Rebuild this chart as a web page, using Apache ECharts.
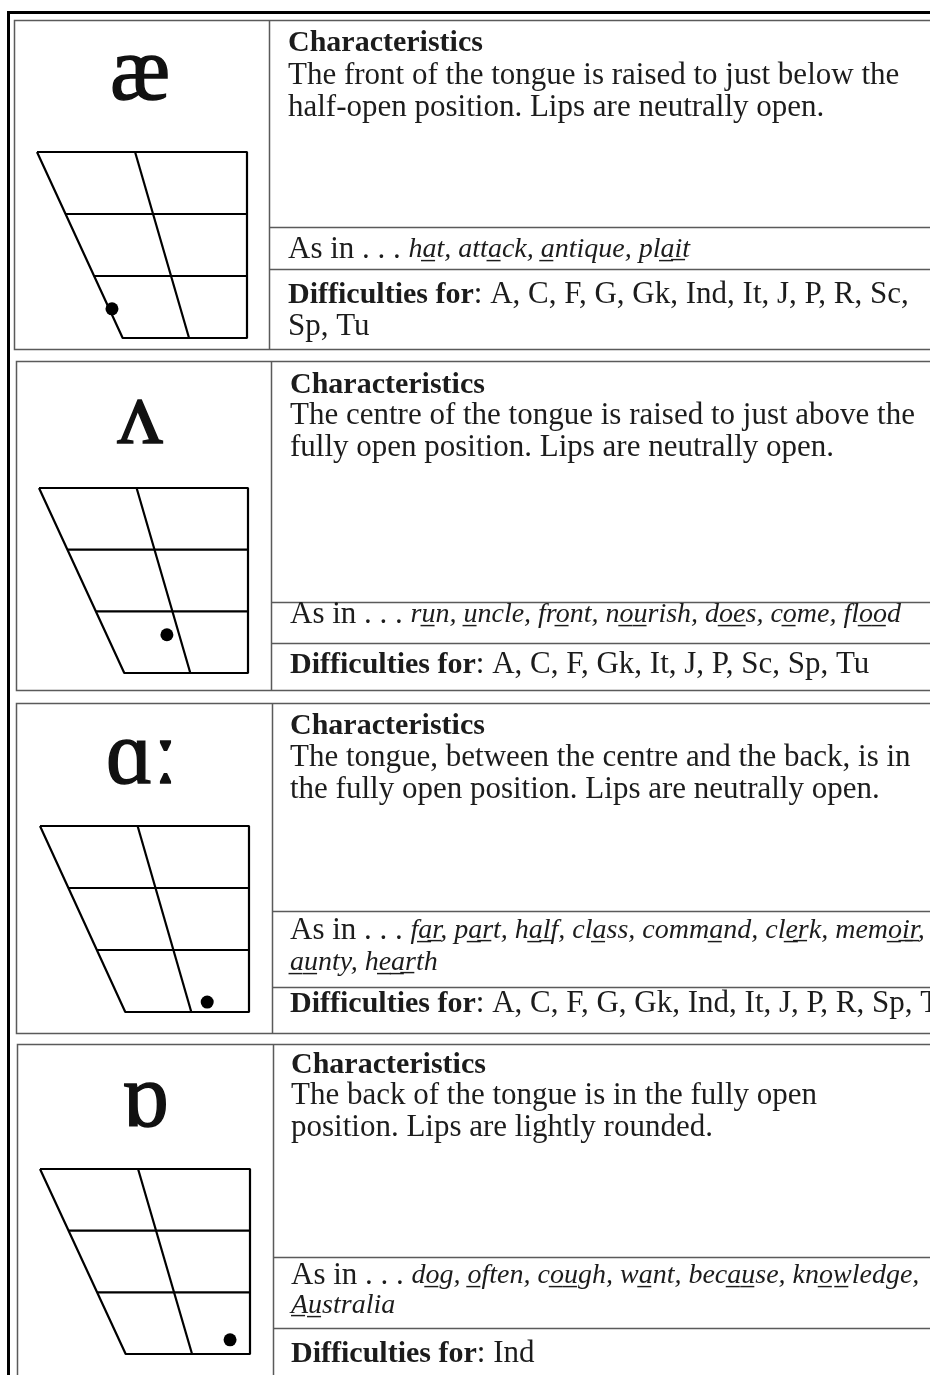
<!DOCTYPE html>
<html>
<head>
<meta charset="utf-8">
<script src="https://cdn.jsdelivr.net/npm/echarts@6/dist/echarts.min.js"></script>
<style>
html, body { margin: 0; padding: 0; background: #fff; }
#main { width: 930px; height: 1375px; }
</style>
</head>
<body>
<div id="main"></div>
<script>
// 元音符号
var symbols = ['æ', 'ʌ', 'ɑː', 'ɒ'];
// 舌位点: x = 前→后 (0-10), y = 开→闭 (0-3)
var dotX = [3.57, 6.12, 8.0, 9.05];
var dotY = [0.47, 0.62, 0.16, 0.23];
// 元音梯形框
var frameX = [0, 10, 10, 4.08, 0];
var frameY = [3, 3, 0, 0, 3];
var centreX = [4.67, 7.24];
var centreY = [3, 0];
var rowLevels = [2, 1];
var rowStartX = [1.36, 2.72];

// 文字内容
var descLines = [
    ['The front of the tongue is raised to just below the', 'half-open position. Lips are neutrally open.'],
    ['The centre of the tongue is raised to just above the', 'fully open position. Lips are neutrally open.'],
    ['The tongue, between the centre and the back, is in', 'the fully open position. Lips are neutrally open.'],
    ['The back of the tongue is in the fully open', 'position. Lips are lightly rounded.']
];
// [..] = 下划线字母
var asInLines = [
    ['h[a]t, att[a]ck, [a]ntique, pl[ai]t'],
    ['r[u]n, [u]ncle, fr[o]nt, n[ou]rish, d[oe]s, c[o]me, fl[oo]d'],
    ['f[ar], p[ar]t, h[al]f, cl[a]ss, comm[a]nd, cl[er]k, mem[oir],', '[au]nty, h[ear]th'],
    ['d[o]g, [o]ften, c[ou]gh, w[a]nt, bec[au]se, kn[ow]ledge,', '[Au]stralia']
];
var difficulties = [
    ['A', 'C', 'F', 'G', 'Gk', 'Ind', 'It', 'J', 'P', 'R', 'Sc', 'Sp', 'Tu'],
    ['A', 'C', 'F', 'Gk', 'It', 'J', 'P', 'Sc', 'Sp', 'Tu'],
    ['A', 'C', 'F', 'G', 'Gk', 'Ind', 'It', 'J', 'P', 'R', 'Sp', 'Tu'],
    ['Ind']
];

// 版面位置
var layout = [
    { box: [14, 20, 349], div: 269, rules: [227, 269], grid: [37, 152, 210, 186], sym: [140, 103], tx: 288,
      head: 50, desc: [83, 115], asIn: [257], diff: [302, 334], wrap: 11 },
    { box: [16, 361, 690], div: 271, rules: [602, 643], grid: [39, 488, 209, 185], sym: [140, 447], tx: 290,
      head: 392, desc: [423, 455], asIn: [622], diff: [672], wrap: 99 },
    { box: [16, 703, 1033], div: 272, rules: [911, 987], grid: [40, 826, 209, 186], sym: [142, 787], tx: 290,
      head: 733, desc: [765, 797], asIn: [938, 970], diff: [1011], wrap: 99 },
    { box: [17, 1044, 1400], div: 273, rules: [1257, 1328], grid: [40, 1169, 210, 185], sym: [145, 1130], tx: 291,
      head: 1072, desc: [1103, 1135], asIn: [1283, 1313], diff: [1361], wrap: 99 }
];

var FONT = '"Liberation Serif", "DejaVu Serif", serif';
var FS = 31;
var INK = '#1c1c1c';
var RULE = '#5a5a5a';
var SYM = 90;

function underline(s) {
    return s.replace(/\[([^\]]+)\]/g, function (m, p) {
        return p.split('').map(function (c) { return c + '\u0332'; }).join('');
    });
}

function textLine(x, base, text, rich) {
    return {
        type: 'text', silent: true, z: 10,
        style: {
            x: x, y: base - 7, text: text, rich: rich || {},
            font: FS + 'px ' + FONT, fill: INK, verticalAlign: 'middle', align: 'left'
        }
    };
}

var richStyles = {
    b: { fontFamily: FONT, fontSize: 30, fontWeight: 'bold', color: INK },
    i: { fontFamily: FONT, fontSize: 28, fontStyle: 'italic', color: INK },
    n: { fontFamily: FONT, fontSize: FS, color: INK }
};

var grids = [], xAxes = [], yAxes = [], series = [], graphics = [];

// 外框
graphics.push({ type: 'line', silent: true, shape: { x1: 7, y1: 12.5, x2: 930, y2: 12.5 }, style: { stroke: '#000', lineWidth: 3 } });
graphics.push({ type: 'line', silent: true, shape: { x1: 8.5, y1: 11, x2: 8.5, y2: 1375 }, style: { stroke: '#000', lineWidth: 3 } });

layout.forEach(function (L, i) {
    // 面板边框
    graphics.push({ type: 'rect', silent: true, shape: { x: L.box[0] + 0.5, y: L.box[1] + 0.5, width: 1000, height: L.box[2] - L.box[1] },
        style: { fill: null, stroke: RULE, lineWidth: 1.5 } });
    graphics.push({ type: 'line', silent: true, shape: { x1: L.div + 0.5, y1: L.box[1], x2: L.div + 0.5, y2: L.box[2] },
        style: { stroke: RULE, lineWidth: 1.5 } });
    L.rules.forEach(function (ry) {
        graphics.push({ type: 'line', silent: true, shape: { x1: L.div, y1: ry + 0.5, x2: 930, y2: ry + 0.5 },
            style: { stroke: RULE, lineWidth: 1.5 } });
    });

    // 元音符号
    graphics.push({ type: 'text', silent: true, style: { x: L.sym[0], y: L.sym[1] - Math.round(SYM * 0.31), text: symbols[i],
        font: SYM + 'px ' + FONT, fill: '#111', stroke: '#111', lineWidth: 1.4,
        align: 'center', verticalAlign: 'middle' } });

    // 文字
    graphics.push(textLine(L.tx, L.head, '{b|Characteristics}', richStyles));
    descLines[i].forEach(function (s, k) {
        graphics.push(textLine(L.tx, L.desc[k], '{n|' + s + '}', richStyles));
    });
    asInLines[i].forEach(function (s, k) {
        var t = (k === 0 ? '{n|As in . . . }' : '') + '{i|' + underline(s) + '}';
        graphics.push(textLine(L.tx, L.asIn[k], t, richStyles));
    });
    var d = difficulties[i];
    var first = d.slice(0, L.wrap).join(', ');
    var rest = d.slice(L.wrap);
    graphics.push(textLine(L.tx, L.diff[0], '{b|Difficulties for}{n|: ' + first + (rest.length ? ',' : '') + '}', richStyles));
    if (rest.length) {
        graphics.push(textLine(L.tx, L.diff[1], '{n|' + rest.join(', ') + '}', richStyles));
    }

    // 梯形坐标系
    grids.push({ left: L.grid[0], top: L.grid[1], width: L.grid[2], height: L.grid[3] });
    xAxes.push({ type: 'value', gridIndex: i, min: 0, max: 10, show: false });
    yAxes.push({ type: 'value', gridIndex: i, min: 0, max: 3, show: false });

    var lineBase = { type: 'line', xAxisIndex: i, yAxisIndex: i, symbol: 'none', silent: true,
        lineStyle: { color: '#000', width: 2.2 }, z: 3 };
    series.push(Object.assign({}, lineBase, { data: frameX.map(function (x, k) { return [x, frameY[k]]; }) }));
    series.push(Object.assign({}, lineBase, { data: centreX.map(function (x, k) { return [x, centreY[k]]; }) }));
    rowLevels.forEach(function (lv, k) {
        series.push(Object.assign({}, lineBase, { data: [[rowStartX[k], lv], [10, lv]] }));
    });
    series.push({ type: 'scatter', xAxisIndex: i, yAxisIndex: i, silent: true, z: 5,
        symbol: 'circle', symbolSize: 13, itemStyle: { color: '#000', opacity: 1 },
        data: [[dotX[i], dotY[i]]] });
});

var myechart = echarts.init(document.getElementById('main'));
myechart.setOption({
    animation: false,
    backgroundColor: '#fff',
    grid: grids,
    xAxis: xAxes,
    yAxis: yAxes,
    series: series,
    graphic: graphics
});
window.addEventListener('resize', function () {
    myechart.resize();
});
</script>
</body>
</html>
